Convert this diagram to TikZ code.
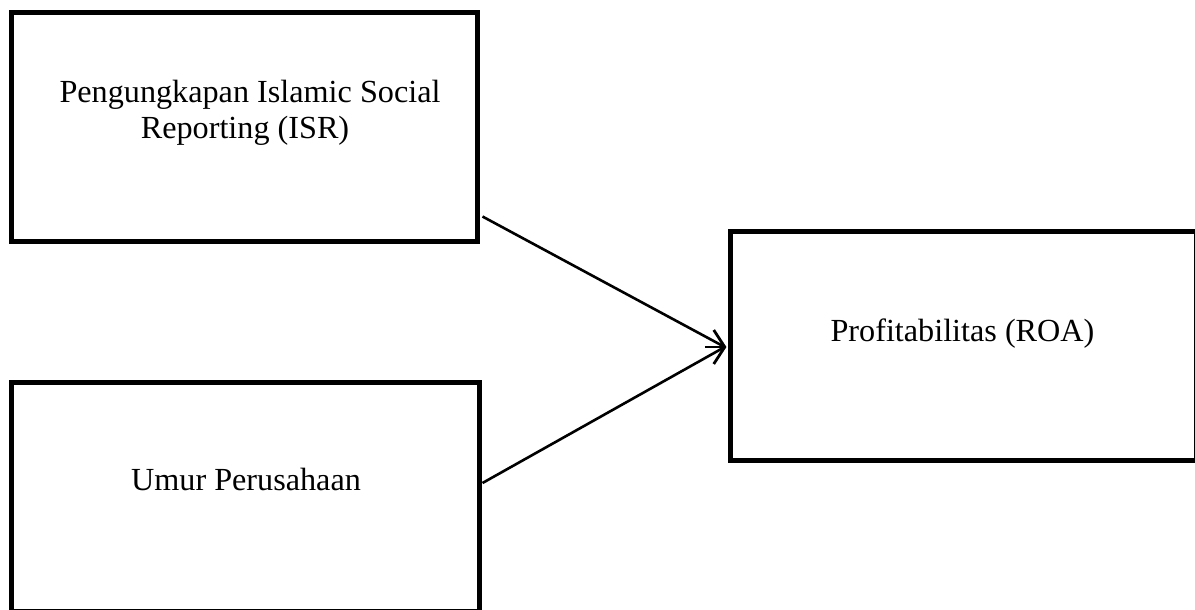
\documentclass[tikz,border=0pt]{standalone}
\usepackage{fontspec}
\setmainfont{Liberation Serif}
\begin{document}
\begin{tikzpicture}[x=1pt,y=-1pt,
  box/.style={draw=black,line width=5pt,rectangle,inner sep=0pt},
  lbl/.style={inner sep=0pt,anchor=base,font=\fontsize{32.2}{36}\selectfont},
  conn/.style={line width=2.6pt,line cap=butt},
  head/.style={line width=2.8pt,line join=miter}]
\useasboundingbox (0,0) rectangle (1195,610);
\node[box,minimum width=466.5pt,minimum height=228.5pt] (b1) at (244.25,126.75) {};
\node[box,minimum width=468pt,minimum height=229.5pt] (b2) at (245,496.75) {};
\node[box,minimum width=466pt,minimum height=229.5pt] (b3) at (963.25,345.75) {};
\node[lbl] (t1a) at (250,102.5) {Pengungkapan Islamic Social};
\node[lbl] (t1b) at (245,138) {Reporting (ISR)};
\node[lbl] (t2) at (246,490) {Umur Perusahaan};
\node[lbl] (t3) at (962.5,341) {Profitabilitas (ROA)};
\coordinate (tip) at ([xshift=-3pt,yshift=-1.25pt]b3.west);
\coordinate (stub) at ([xshift=-23pt,yshift=-1.25pt]b3.west);
\draw[conn] ([xshift=2.5pt,yshift=27pt]b1.south east) -- (tip);
\draw[conn] ([xshift=1pt,yshift=13.75pt]b2.east) -- (tip);
\draw[conn] (stub) -- (tip);
\draw[head] ([xshift=-11pt,yshift=17pt]tip) -- (tip) -- ([xshift=-11pt,yshift=-17pt]tip);
\end{tikzpicture}
\end{document}
